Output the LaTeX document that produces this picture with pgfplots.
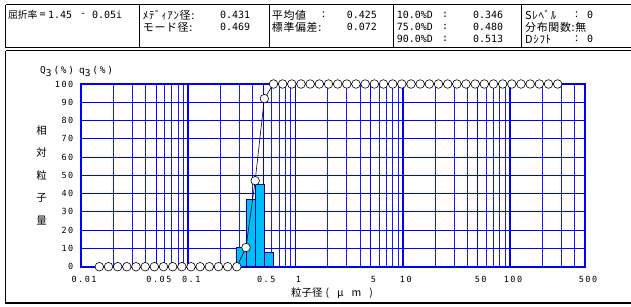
\documentclass[border=0pt]{standalone}
\usepackage{fontspec}
\usepackage{pgfplots}
\pgfplotsset{compat=1.18}
\setmainfont{Liberation Sans}
\newfontfamily\cjk{Noto Sans CJK JP}
\newfontfamily\cjkw[LetterSpace=6]{Noto Sans CJK JP}
\newfontfamily\mono{DejaVu Sans Mono}
\newfontfamily\tickf[LetterSpace=18]{DejaVu Sans Mono}
\definecolor{barfill}{RGB}{0,190,250}
\definecolor{baredge}{RGB}{0,0,140}
\newcommand{\hd}{\fontsize{10}{11}\selectfont}
\newcommand{\hc}{\fontsize{11}{12}\selectfont}
\begin{document}
\begin{tikzpicture}
\useasboundingbox (0,0) rectangle (631bp,-307bp);
% frames
\begin{scope}[x=1bp,y=-1bp]
\draw[line width=1.3bp] (5.7,4.8) -- (633,4.8);
\draw[line width=1.0bp] (5.7,4.8) -- (5.7,47.7) -- (633,47.7);
\draw[line width=0.8bp] (139,4.8) -- (139,47.7);
\draw[line width=0.8bp] (269.3,4.8) -- (269.3,47.7);
\draw[line width=0.8bp] (393.5,4.8) -- (393.5,47.7);
\draw[line width=0.8bp] (521.5,4.8) -- (521.5,47.7);
\draw[line width=1.3bp] (5.7,50.8) -- (633,50.8);
\draw[line width=1.3bp] (5.7,50.8) -- (5.7,303) -- (633,303);
% header text
\tikzset{h/.style={anchor=west,inner sep=0pt,font=\hd},
         c/.style={anchor=west,inner sep=0pt,font=\hc}}
\node[anchor=west,inner sep=0pt,font=\fontsize{9.8}{11}\selectfont] at (8,15) {\cjk 屈折率};
\node[h] at (39.5,15) {\mono =};
\node[h] at (48,15) {\mono 1.45};
\node[h] at (80,15) {\mono -};
\node[h] at (92,15) {\mono 0.05i};
\node[c] at (142.7,15) {\cjkw ﾒﾃﾞｨｱﾝ径:};
\node[h] at (220,15) {\mono 0.431};
\node[c] at (142.7,27) {\cjkw モード径:};
\node[h] at (220,27) {\mono 0.469};
\node[c] at (271.7,15) {\cjkw 平均値};
\node[c] at (322,15) {\cjk :};
\node[h] at (346.7,15) {\mono 0.425};
\node[c] at (271.7,27) {\cjkw 標準偏差:};
\node[h] at (346.7,27) {\mono 0.072};
\node[h] at (396.7,15) {\mono 10.0\%D};
\node[h] at (396.7,27) {\mono 75.0\%D};
\node[h] at (396.7,39) {\mono 90.0\%D};
\node[h] at (442,15) {\mono :};
\node[h] at (442,27) {\mono :};
\node[h] at (442,39) {\mono :};
\node[h] at (473,15) {\mono 0.346};
\node[h] at (473,27) {\mono 0.480};
\node[h] at (473,39) {\mono 0.513};
\node[c] at (525,15) {\cjkw Sﾚﾍﾞﾙ};
\node[c] at (575,15) {\cjk :};
\node[h] at (587,15) {\mono 0};
\node[c] at (525,27) {\cjkw 分布関数:無};
\node[c] at (525,39) {\cjkw Dｼﾌﾄ};
\node[c] at (575,39) {\cjk :};
\node[h] at (587,39) {\mono 0};
% axis annotations
\node[anchor=west,inner sep=0pt,font=\fontsize{9.5}{10}\selectfont] at (40,71.7)
  {\tickf Q\raisebox{-2.5bp}{3}\hspace{2bp}(\%)\hspace{5bp}q\raisebox{-2.5bp}{3}\hspace{2bp}(\%)};
\foreach \c/\yy in {相/130.3,対/152.5,粒/175.5,子/198.3,量/220.7}
  \node[inner sep=0pt,font=\fontsize{10.5}{11}\selectfont] at (41.7,\yy) {\cjk \c};
\node[inner sep=0pt,font=\fontsize{10.5}{11}\selectfont] at (332,293.5)
  {\cjk 粒子径\hspace{3bp}(\hspace{8bp}μ\hspace{8bp}m\hspace{8bp})};
\end{scope}
\begin{axis}[
  at={(81bp,-266.7bp)}, anchor=south west,
  width=504bp, height=182.7bp, scale only axis,
  xmode=log, xmin=0.01, xmax=500, ymin=0, ymax=100,
  clip=false,
  xtick={0.01,0.05,0.1,0.5,1,5,10,50,100,500},
  xticklabels={0.01,0.05,0.1,0.5,1,5,10,50,100,500},
  minor xtick={0.02,0.03,0.04,0.06,0.07,0.08,0.09,0.2,0.3,0.4,0.6,0.7,0.8,0.9,2,3,4,6,7,8,9,20,30,40,60,70,80,90,200,300,400},
  ytick={0,10,...,100},
  extra x ticks={0.1,1,10,100}, extra x tick labels={},
  extra y ticks={50}, extra y tick labels={},
  extra tick style={major grid style={blue,line width=1.6bp}},
  xmajorgrids, xminorgrids, ymajorgrids,
  major grid style={blue,line width=0.8bp},
  minor grid style={blue!90,line width=0.7bp},
  axis line style={blue,line width=2.3bp},
  major tick length=0pt, minor tick length=0pt,
  /pgf/number format/assume math mode=true,
  tick label style={font=\fontsize{8.5}{9}\selectfont\tickf, inner sep=0pt},
  xticklabel style={anchor=north, yshift=-9bp, xshift=3bp},
  yticklabel style={anchor=east, xshift=-7.5bp},
]
\addplot[ybar interval, fill=barfill, draw=baredge, line width=0.8bp, forget plot]
  coordinates {(0.2837,10.5) (0.3454,36.6) (0.4206,44.9) (0.5120,8.0) (0.6234,8.0)};
\addplot[black, line width=0.6bp, mark=*, mark size=4.3bp,
  mark options={fill=white, draw=black, line width=0.6bp}]
  coordinates {
  (0.01482,0) (0.01805,0) (0.02197,0) (0.02675,0) (0.03257,0) (0.03965,0)
  (0.04828,0) (0.05878,0) (0.07156,0) (0.08713,0) (0.1061,0) (0.1291,0)
  (0.1572,0) (0.1914,0) (0.2330,0) (0.2837,0) (0.3454,10.5) (0.4206,47.1)
  (0.5120,92.0) (0.6234,100) (0.7589,100) (0.9240,100) (1.1249,100) (1.3696,100)
  (1.6675,100) (2.0301,100) (2.4716,100) (3.0091,100) (3.6635,100) (4.4603,100)
  (5.4303,100) (6.6112,100) (8.0491,100) (9.7996,100) (11.931,100) (14.526,100)
  (17.685,100) (21.531,100) (26.213,100) (31.914,100) (38.854,100) (47.304,100)
  (57.592,100) (70.117,100) (85.366,100) (103.93,100) (126.53,100) (154.05,100)
  (187.55,100) (228.34,100) (278.00,100)};
\end{axis}
\end{tikzpicture}
\end{document}
